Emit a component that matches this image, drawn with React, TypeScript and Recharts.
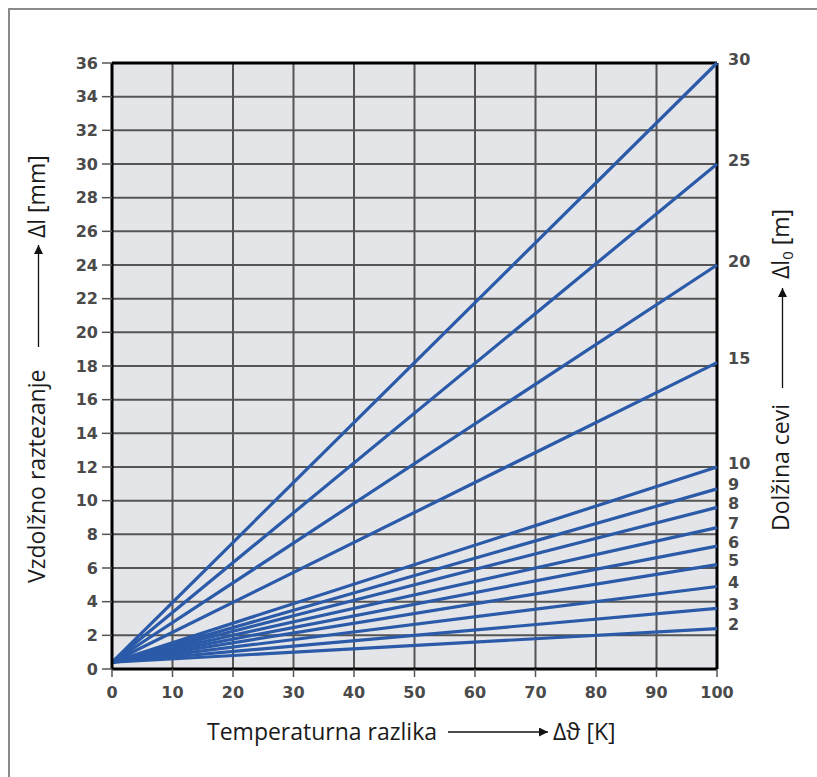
import React from "react";
import {
  LineChart,
  Line,
  XAxis,
  YAxis,
  CartesianGrid,
  ReferenceLine,
  LabelList,
} from "recharts";

// Pipe lengths (m) shown at the right end of each line
const pipeLengths = [2, 3, 4, 5, 6, 7, 8, 9, 10, 15, 20, 25, 30];
// Expansion (mm) at ΔT = 0 K and ΔT = 100 K
const startExpansion = [0.4, 0.4, 0.4, 0.4, 0.4, 0.4, 0.4, 0.4, 0.4, 0.4, 0.4, 0.4, 0.4];
const endExpansion = [2.4, 3.6, 4.9, 6.2, 7.3, 8.4, 9.6, 10.7, 12.0, 18.2, 24.0, 30.0, 36.0];
const temperatures = [0, 100];
const xTicks = [0, 10, 20, 30, 40, 50, 60, 70, 80, 90, 100];
const yTicks = [0, 2, 4, 6, 8, 10, 12, 14, 16, 18, 20, 22, 24, 26, 28, 30, 32, 34, 36];

const data = temperatures.map((t, i) => {
  const row: Record<string, number> = { t };
  pipeLengths.forEach((len, k) => {
    row["L" + len] = i === 0 ? startExpansion[k] : endExpansion[k];
  });
  return row;
});

const BLUE = "#2a5aa8";
const TICK_FONT = "'DejaVu Sans', sans-serif";
const TITLE_FONT = "'Open Sans', sans-serif";
const TICK_FILL = "#4a4a4a";

export default function App() {
  return (
    <div style={{ position: "absolute", left: 0, top: 0, width: 817, height: 777, background: "#fff" }}>
      <div
        style={{
          position: "absolute",
          left: 8,
          top: 8,
          width: 809,
          height: 769,
          borderLeft: "2px solid #8a8a8a",
          borderTop: "2px solid #8a8a8a",
          boxSizing: "border-box",
        }}
      />
      <div style={{ position: "absolute", left: 0, top: 0 }}>
        <LineChart
          width={817}
          height={777}
          data={data}
          margin={{ top: 63, right: 100, bottom: 78, left: 52 }}
        >
          <CartesianGrid fill="#e4e5e9" stroke="#555" strokeWidth={2} />
          <XAxis
            dataKey="t"
            type="number"
            domain={[0, 100]}
            ticks={xTicks}
            height={30}
            tickSize={8}
            tickMargin={10}
            axisLine={{ stroke: "#000", strokeWidth: 3 }}
            tickLine={{ stroke: "#555", strokeWidth: 1.5 }}
            tick={{ fill: TICK_FILL, fontSize: 16, fontWeight: "bold", fontFamily: TICK_FONT }}
            interval={0}
          />
          <YAxis
            type="number"
            domain={[0, 36]}
            ticks={yTicks}
            width={60}
            tickSize={10}
            tickMargin={4}
            axisLine={{ stroke: "#000", strokeWidth: 3 }}
            tickLine={{ stroke: "#555", strokeWidth: 1.5 }}
            tick={{ fill: TICK_FILL, fontSize: 16, fontWeight: "bold", fontFamily: TICK_FONT }}
            interval={0}
          />
          <ReferenceLine y={36} stroke="#000" strokeWidth={3} />
          <ReferenceLine x={100} stroke="#000" strokeWidth={3} />
          {pipeLengths.map((len) => (
            <Line
              key={len}
              dataKey={"L" + len}
              stroke={BLUE}
              strokeWidth={3.2}
              dot={false}
              isAnimationActive={false}
            >
              <LabelList
                dataKey={"L" + len}
                content={(p: any) =>
                  p.index === 1 ? (
                    <text
                      x={p.x + 11}
                      y={p.y - 4}
                      dominantBaseline="central"
                      fill={TICK_FILL}
                      fontSize={16}
                      fontWeight="bold"
                      fontFamily={TICK_FONT}
                    >
                      {len}
                    </text>
                  ) : null
                }
              />
            </Line>
          ))}
        </LineChart>
      </div>
      <svg
        width={817}
        height={777}
        style={{ position: "absolute", left: 0, top: 0, pointerEvents: "none" }}
      >
        <defs>
          <marker id="arr" viewBox="0 0 10 10" refX="10" refY="5" markerWidth="11" markerHeight="9" markerUnits="userSpaceOnUse" orient="auto">
            <path d="M0,0 L10,5 L0,10 z" fill="#111" />
          </marker>
        </defs>
        {/* Bottom title */}
        <text x={207} y={740} fontFamily={TITLE_FONT} fontSize={23} fill="#1a1a1a">
          Temperaturna razlika
        </text>
        <line x1={448} y1={732} x2={548} y2={732} stroke="#111" strokeWidth={1.3} markerEnd="url(#arr)" />
        <text x={553} y={740} fontFamily={TITLE_FONT} fontSize={23} fill="#1a1a1a">
          Δϑ [K]
        </text>
        {/* Left title */}
        <g transform="translate(45,583) rotate(-90)">
          <text x={0} y={0} fontFamily={TITLE_FONT} fontSize={23} fill="#1a1a1a">
            Vzdolžno raztezanje
          </text>
        </g>
        <line x1={38.5} y1={347} x2={38.5} y2={245} stroke="#111" strokeWidth={1.3} markerEnd="url(#arr)" />
        <g transform="translate(45,238) rotate(-90)">
          <text x={0} y={0} fontFamily={TITLE_FONT} fontSize={23} fill="#1a1a1a">
            Δl [mm]
          </text>
        </g>
        {/* Right title */}
        <g transform="translate(789,531) rotate(-90)">
          <text x={0} y={0} fontFamily={TITLE_FONT} fontSize={23} fill="#1a1a1a">
            Dolžina cevi
          </text>
        </g>
        <line x1={782.5} y1={388} x2={782.5} y2={288} stroke="#111" strokeWidth={1.3} markerEnd="url(#arr)" />
        <g transform="translate(789,279) rotate(-90)">
          <text x={0} y={0} fontFamily={TITLE_FONT} fontSize={23} fill="#1a1a1a">
            Δl
            <tspan fontSize={15} dy={4}>0</tspan>
            <tspan dy={-4}> [m]</tspan>
          </text>
        </g>
      </svg>
    </div>
  );
}
